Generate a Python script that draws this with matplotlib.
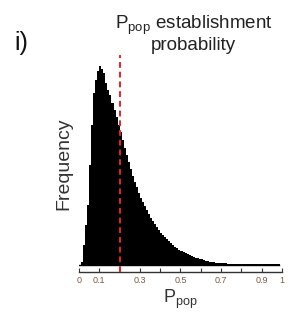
import matplotlib
matplotlib.use("Agg")
import matplotlib.pyplot as plt
import numpy as np

plt.rcParams['font.family'] = ['Liberation Sans', 'DejaVu Sans']

# histogram bins (left edges) and frequencies (arbitrary units)
bin_edges = [round(i * 0.01, 2) for i in range(0, 99)]
freq = [0, 3, 20, 40, 60, 100, 140, 172, 185, 194,
        199, 196, 192, 182, 175, 170, 162, 155, 148, 140,
        133, 125, 117, 110, 103, 96, 89, 83, 78, 72,
        67, 63, 59, 55, 51, 47, 44, 41, 38, 35,
        32, 30, 28, 26, 24, 22, 20, 18.5, 17, 15.5,
        14, 13, 12, 11, 10, 9, 8, 7.5, 7, 6.5,
        6, 5, 4.5, 4, 3.5, 3, 3, 2.5, 2.5, 2,
        2, 1.8, 1.6, 1.5, 1.4, 1.3, 1.2, 1.2, 1.1, 1.1,
        1, 1, 1, 1, 1, 1, 1, 1, 1, 0.6,
        0.6, 0.6, 0.6, 0.6, 0.6, 0.6, 0.6, 0.6, 0.6]
threshold = 0.2
xticks = [0, 0.1, 0.2, 0.3, 0.4, 0.5, 0.6, 0.7, 0.8, 0.9, 1.0]
xticklabels = ['0', '0.1', '', '0.3', '', '0.5', '', '0.7', '', '0.9', '1']

fig = plt.figure(figsize=(2.91, 3.20), dpi=100)
ax = fig.add_axes([79 / 291, 48 / 320, 203 / 291, 217 / 320])

edges = bin_edges + [bin_edges[-1] + 0.01]
ax.stairs(freq, edges, fill=True, color='black', linewidth=0)
ax.plot([0, 0.985], [0, 0], color='black', lw=1)
ax.axvline(threshold, color='#e8202a', lw=1.4, ls=(0, (3, 2)))

ax.set_xlim(0, 1)
ax.set_ylim(-7, 210)
for s in ['left', 'top', 'right']:
    ax.spines[s].set_visible(False)
ax.spines['bottom'].set_color('#333333')
ax.spines['bottom'].set_linewidth(1.0)
ax.set_yticks([])
ax.set_xticks(xticks)
ax.set_xticklabels(xticklabels)
ax.tick_params(axis='x', direction='in', length=3, width=0.8, colors='#333333',
               labelsize=6.5, labelcolor='#7a5a45', pad=3)

ax.set_xlabel(r'$\mathregular{P_{pop}}$', fontsize=13, color='#333333', labelpad=2)
ax.set_ylabel('Frequency', fontsize=14, color='#333333', labelpad=5)

fig.text(193.5 / 291, 1 - 34 / 320,
         r'$\mathregular{P_{pop}}$ establishment' + '\nprobability',
         ha='center', va='center', fontsize=13.5, color='#222222',
         linespacing=1.0)
fig.text(14 / 291, 1 - 43 / 320, 'i)', ha='left', va='center', fontsize=18,
         color='#111111')

fig.savefig('out.png', dpi=100)
